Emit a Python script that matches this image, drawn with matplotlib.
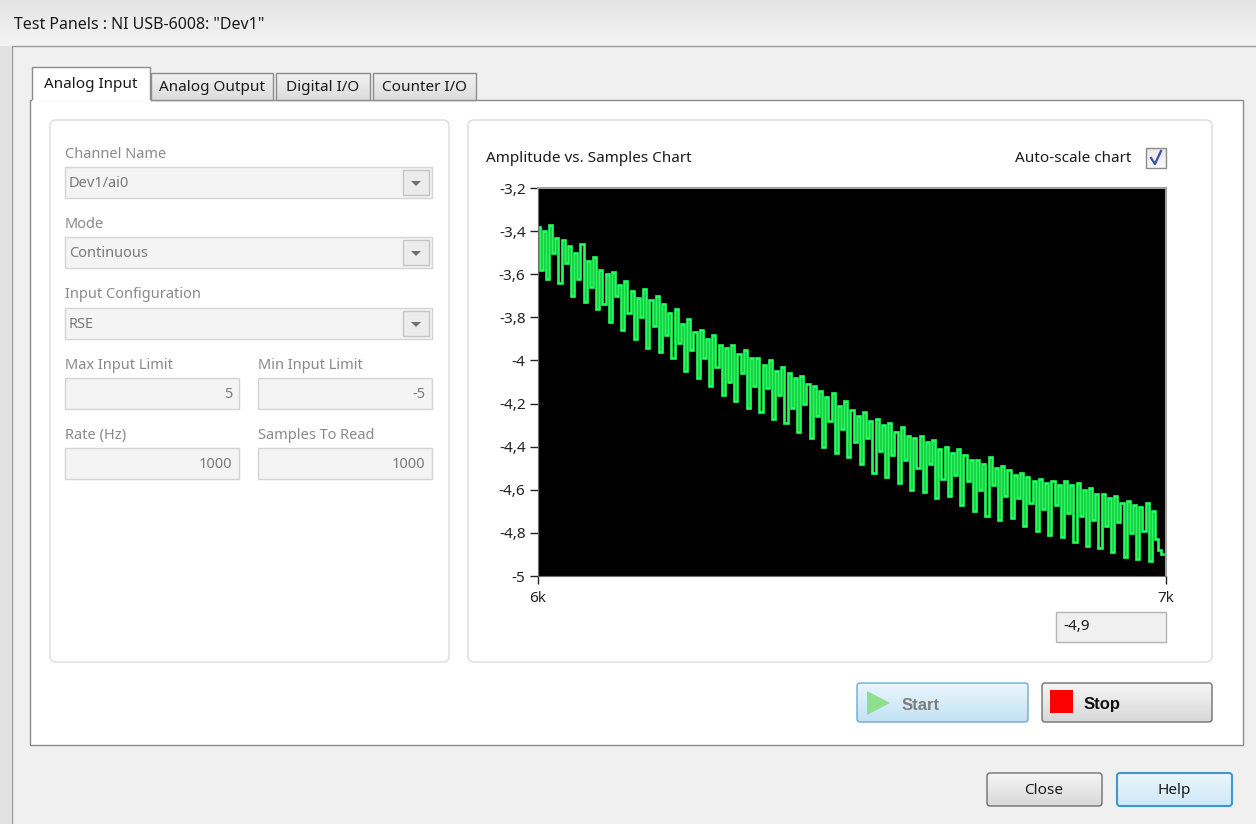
import numpy as np
import matplotlib.pyplot as plt
from matplotlib.patches import Rectangle, FancyBboxPatch, Polygon

# Datos del gráfico
sample_start = 6000
sample_step = 5
amplitude = [
    -3.38, -3.58, -3.40, -3.62, -3.37, -3.50, -3.43, -3.64, -3.44, -3.55,
    -3.47, -3.70, -3.50, -3.62, -3.46, -3.73, -3.54, -3.66, -3.52, -3.76,
    -3.58, -3.74, -3.60, -3.82, -3.59, -3.70, -3.65, -3.86, -3.63, -3.78,
    -3.68, -3.90, -3.71, -3.80, -3.67, -3.94, -3.72, -3.84, -3.70, -3.96,
    -3.74, -3.88, -3.78, -3.99, -3.76, -3.92, -3.83, -4.05, -3.81, -3.95,
    -3.87, -4.08, -3.86, -3.99, -3.90, -4.12, -3.88, -4.03, -3.93, -4.16,
    -3.94, -4.10, -3.93, -4.19, -3.97, -4.06, -3.95, -4.22, -3.99, -4.12,
    -3.99, -4.24, -4.02, -4.13, -4.00, -4.27, -4.05, -4.16, -4.03, -4.29,
    -4.06, -4.22, -4.08, -4.33, -4.07, -4.20, -4.11, -4.36, -4.12, -4.26,
    -4.14, -4.40, -4.17, -4.28, -4.15, -4.43, -4.21, -4.32, -4.19, -4.45,
    -4.23, -4.38, -4.26, -4.48, -4.24, -4.36, -4.28, -4.52, -4.27, -4.42,
    -4.30, -4.54, -4.29, -4.44, -4.33, -4.57, -4.31, -4.46, -4.35, -4.60,
    -4.36, -4.50, -4.35, -4.61, -4.38, -4.48, -4.37, -4.64, -4.41, -4.55,
    -4.40, -4.63, -4.43, -4.53, -4.41, -4.67, -4.44, -4.56, -4.46, -4.70,
    -4.46, -4.60, -4.48, -4.72, -4.45, -4.58, -4.50, -4.74, -4.49, -4.63,
    -4.51, -4.73, -4.53, -4.64, -4.52, -4.77, -4.54, -4.66, -4.56, -4.79,
    -4.55, -4.69, -4.57, -4.81, -4.56, -4.67, -4.58, -4.82, -4.56, -4.71,
    -4.58, -4.84, -4.57, -4.72, -4.60, -4.86, -4.59, -4.74, -4.62, -4.87,
    -4.62, -4.77, -4.64, -4.89, -4.63, -4.75, -4.66, -4.91, -4.65, -4.80,
    -4.67, -4.92, -4.68, -4.79, -4.66, -4.93, -4.70, -4.83, -4.88, -4.90,
]
y_ticks = [-3.2, -3.4, -3.6, -3.8, -4.0, -4.2, -4.4, -4.6, -4.8, -5.0]
y_tick_labels = ['-3,2', '-3,4', '-3,6', '-3,8', '-4', '-4,2', '-4,4', '-4,6', '-4,8', '-5']
x_ticks = [6000, 7000]
x_tick_labels = ['6k', '7k']
tabs = ['Analog Input', 'Analog Output', 'Digital I/O', 'Counter I/O']
readout = '-4,9'

samples = sample_start + sample_step * np.arange(len(amplitude))

plt.rcParams['font.family'] = ['Noto Sans', 'DejaVu Sans']
W, H = 1256, 824
fig = plt.figure(figsize=(W / 100, H / 100), dpi=100)
bg = fig.add_axes([0, 0, 1, 1])
bg.set_xlim(0, W)
bg.set_ylim(H, 0)
bg.axis('off')


def grad(x0, y0, x1, y1, c_top, c_bot, z=1):
    g = np.linspace(0, 1, 64)[:, None, None]
    a = np.array(plt.matplotlib.colors.to_rgb(c_top))
    b = np.array(plt.matplotlib.colors.to_rgb(c_bot))
    img = a * (1 - g) + b * g
    bg.imshow(img, extent=(x0, x1, y1, y0), aspect='auto', zorder=z, interpolation='bilinear')


def box(x0, y0, x1, y1, fc, ec, lw=1, z=2, r=0):
    if r:
        p = FancyBboxPatch((x0, y0), x1 - x0, y1 - y0, boxstyle=f'round,pad=0,rounding_size={r}',
                           fc=fc, ec=ec, lw=lw, zorder=z)
    else:
        p = Rectangle((x0, y0), x1 - x0, y1 - y0, fc=fc, ec=ec, lw=lw, zorder=z)
    bg.add_patch(p)


# fondo de ventana
box(0, 0, W, H, '#f0f0f0', 'none', z=0)
grad(0, 0, W, 46, '#e4e4e4', '#f4f4f4', z=0.5)
box(0, 46, 11, H, '#e2e2e2', 'none', z=0.6)
bg.plot([12, 12, W], [H, 46, 46], color='#9a9a9a', lw=1, zorder=1)
bg.text(14, 25, 'Test Panels : NI USB-6008: "Dev1"', fontsize=11.5, va='center', color='#1a1a1a', zorder=3)

# pestañas
box(30, 100, 1243, 745, 'white', '#8c8c8c', z=2)
tab_x = [(32, 150), (151, 273), (276, 370), (373, 476)]
for i, (name, (a, b)) in enumerate(zip(tabs, tab_x)):
    if i == 0:
        box(a, 67, b, 101, 'white', '#8c8c8c', z=3)
        bg.plot([a + 1, b - 1], [101, 101], color='white', lw=2, zorder=4)
        bg.text((a + b) / 2, 84, name, fontsize=11, ha='center', va='center', color='#1a1a1a', zorder=5)
    else:
        grad(a, 73, b, 100, '#f2f2f2', '#dcdcdc', z=2.5)
        box(a, 73, b, 100, 'none', '#8c8c8c', z=3)
        bg.text((a + b) / 2, 87, name, fontsize=11, ha='center', va='center', color='#1a1a1a', zorder=5)

# grupos
box(50, 120, 449, 662, 'white', '#dcdcdc', z=3, r=6)
box(468, 120, 1212, 662, 'white', '#dcdcdc', z=3, r=6)

lbl = dict(fontsize=10.5, va='center', color='#8a8a8a', zorder=5)
val = dict(fontsize=10.5, va='center', color='#7a7a7a', zorder=5)


def combo(y_lab, y0, label, text):
    bg.text(65, y_lab, label, **lbl)
    box(65, y0, 432, y0 + 31, '#f4f4f4', '#d4d4d4', z=4)
    box(403, y0 + 3, 429, y0 + 28, '#ececec', '#c4c4c4', z=4.5)
    bg.add_patch(Polygon([[411, y0 + 14], [421, y0 + 14], [416, y0 + 19]], closed=True,
                         fc='#707070', ec='none', zorder=5))
    bg.text(69, y0 + 16, text, **val)


combo(154, 167, 'Channel Name', 'Dev1/ai0')
combo(224, 237, 'Mode', 'Continuous')
combo(295, 308, 'Input Configuration', 'RSE')

fields = [(65, 239, 365, 'Max Input Limit', '5'), (258, 432, 365, 'Min Input Limit', '-5'),
          (65, 239, 435, 'Rate (Hz)', '1000'), (258, 432, 435, 'Samples To Read', '1000')]
for a, b, yl, name, v in fields:
    bg.text(a, yl, name, **lbl)
    box(a, yl + 13, b, yl + 44, '#f4f4f4', '#d4d4d4', z=4)
    bg.text(b - 7, yl + 29, v, ha='right', **val)

# cabecera del gráfico
bg.text(486, 158, 'Amplitude vs. Samples Chart', fontsize=11, va='center', color='#1a1a1a', zorder=5)
bg.text(1131, 158, 'Auto-scale chart', fontsize=11, ha='right', va='center', color='#1a1a1a', zorder=5)
grad(1146, 148, 1166, 168, '#e8e8e8', '#f8f8f8', z=4)
box(1146, 148, 1166, 168, 'none', '#8c8c8c', z=5)
bg.plot([1151, 1155, 1161], [158, 164, 151], color='#3a4fa8', lw=1.6, zorder=6)

# lectura
box(1056, 612, 1166, 642, '#f0f0f0', '#b4b4b4', z=4)
bg.text(1063, 627, readout, fontsize=11, va='center', color='#1a1a1a', zorder=5)

# botones
bold = dict(fontsize=12, fontweight='bold', family=['Liberation Sans', 'DejaVu Sans'], va='center', zorder=6)
grad(857, 683, 1028, 722, '#eaf6fd', '#c2e2f4', z=4)
box(857, 683, 1028, 722, 'none', '#6fa9cf', z=5, r=3)
bg.add_patch(Polygon([[867, 691], [867, 715], [890, 703]], closed=True, fc='#8ee08e', ec='none', zorder=6))
bg.text(902, 706, 'Start', color='#7d7d7d', **bold)
grad(1042, 683, 1212, 722, '#f6f6f6', '#d8d8d8', z=4)
box(1042, 683, 1212, 722, 'none', '#707070', z=5, r=3)
box(1050, 690, 1073, 713, '#ff0000', 'none', z=6)
bg.text(1084, 705, 'Stop', color='#111111', **bold)

grad(987, 773, 1102, 806, '#f6f6f6', '#d8d8d8', z=4)
box(987, 773, 1102, 806, 'none', '#707070', z=5, r=3)
bg.text(1044, 790, 'Close', fontsize=11, ha='center', va='center', color='#1a1a1a', zorder=6)
grad(1117, 773, 1232, 806, '#eaf6fd', '#d0e8f6', z=4)
box(1117, 773, 1232, 806, 'none', '#3c98d4', lw=1.5, z=5, r=3)
bg.text(1174, 790, 'Help', fontsize=11, ha='center', va='center', color='#1a1a1a', zorder=6)

# gráfico
x0, y0, x1, y1 = 538, 188, 1166, 576
ax = fig.add_axes([x0 / W, 1 - y1 / H, (x1 - x0) / W, (y1 - y0) / H])
ax.set_facecolor('black')
ax.plot(samples, amplitude, color='#24ff5c', lw=1.9, drawstyle='steps-mid', solid_joinstyle='miter')
ax.set_xlim(6000, 7000)
ax.set_ylim(-5.0, -3.2)
ax.set_yticks(y_ticks)
ax.set_yticklabels(y_tick_labels)
ax.set_xticks(x_ticks)
ax.set_xticklabels(x_tick_labels)
ax.tick_params(axis='both', labelsize=11, colors='#222222', length=6, width=1, direction='out')
ax.tick_params(axis='y', pad=3)
ax.tick_params(axis='x', pad=5)
for s in ['top', 'right']:
    ax.spines[s].set_color('#a0a0a0')
    ax.spines[s].set_linewidth(1.5)
for s in ['left', 'bottom']:
    ax.spines[s].set_color('#707070')

fig.savefig('out.png', dpi=100)
